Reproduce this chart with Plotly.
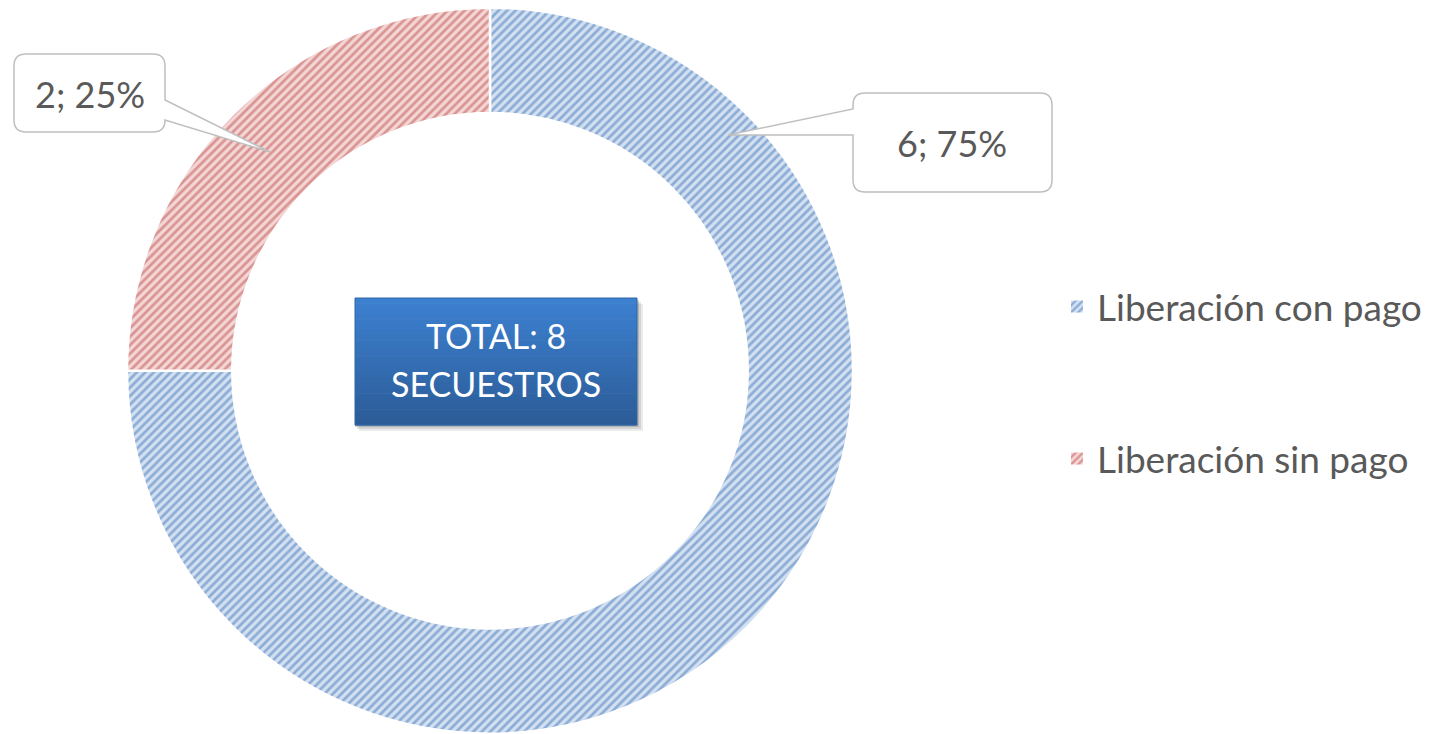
import plotly.graph_objects as go

# data
labels = ['Liberación con pago', 'Liberación sin pago']
values = [6, 2]
fg_colors = ['#4477b8', '#c0504d']
bg_colors = ['#d3e0f1', '#f3d6d5']
center_title = 'TOTAL'
center_unit = 'SECUESTROS'

W, H = 1445, 734
TEXT = '#595959'
FONT = 'Lato'


def px(x):
    return x / W


def py(y):
    return 1 - y / H


def callout(box, pts, r=12):
    # rounded box with a pointer inserted on one of its sides
    x0, y0, x1, y1 = box
    side, p = pts
    d = [f'M{px(x0 + r)},{py(y0)}', f'L{px(x1 - r)},{py(y0)}',
         f'Q{px(x1)},{py(y0)} {px(x1)},{py(y0 + r)}']
    if side == 'right':
        d += [f'L{px(x)},{py(y)}' for x, y in p]
    d += [f'L{px(x1)},{py(y1 - r)}', f'Q{px(x1)},{py(y1)} {px(x1 - r)},{py(y1)}',
          f'L{px(x0 + r)},{py(y1)}', f'Q{px(x0)},{py(y1)} {px(x0)},{py(y1 - r)}']
    if side == 'left':
        d += [f'L{px(x)},{py(y)}' for x, y in p]
    d += [f'L{px(x0)},{py(y0 + r)}', f'Q{px(x0)},{py(y0)} {px(x0 + r)},{py(y0)}', 'Z']
    return dict(type='path', xref='paper', yref='paper', path=' '.join(d),
                fillcolor='white', line=dict(color='#bfbfbf', width=1.5), layer='above')


total = sum(values)
pcts = [round(v / total * 100) for v in values]

domain = dict(x=[px(490 - 363), px(490 + 363)], y=[0, 0.99])


def pattern(i, size=6):
    return dict(shape='/', fgcolor=fg_colors[i], bgcolor=bg_colors[i],
                size=size, solidity=0.45, fillmode='overlay')


fig = go.Figure()

# legend entries: tiny one-slice pies hidden behind the centre box,
# one per legend so the two entries can be spaced apart
for i, leg in enumerate(['legend', 'legend2']):
    fig.add_trace(go.Pie(
        labels=[labels[i]], values=[values[i]], textinfo='none',
        domain=dict(x=[px(470), px(520)], y=[py(385), py(335)]),
        legend=leg, hoverinfo='skip',
        marker=dict(colors=[bg_colors[i]], line=dict(width=0), pattern=pattern(i, 5))
    ))

fig.add_trace(go.Pie(
    labels=labels, values=values, hole=0.71, sort=False, direction='clockwise',
    domain=domain, textinfo='none', showlegend=False,
    marker=dict(colors=bg_colors, line=dict(color='white', width=2.5),
                pattern=dict(shape='/', fgcolor=fg_colors, bgcolor=bg_colors,
                             size=6, solidity=0.45, fillmode='overlay')),
    hovertemplate='%{label}<br>%{value}; %{percent}<extra></extra>'
))

shapes = []

# centre box: shadow + vertical gradient made from bands
bx0, by0, bx1, by1 = 355, 298, 637, 425
for k, op in enumerate([0.08, 0.10, 0.14]):
    o = 6 - k * 2
    shapes.append(dict(type='rect', xref='paper', yref='paper',
                       x0=px(bx0 + o - 2), x1=px(bx1 + o), y0=py(by0 + o), y1=py(by1 + o),
                       fillcolor=f'rgba(0,0,0,{op})', line=dict(width=0), layer='above'))
top_c = (0x3c, 0x80, 0xd0)
bot_c = (0x2c, 0x5c, 0x98)
n = 24
for k in range(n):
    t = k / (n - 1)
    c = tuple(round(a + (b - a) * t) for a, b in zip(top_c, bot_c))
    ya = by0 + (by1 - by0) * k / n
    yb = by0 + (by1 - by0) * (k + 1) / n
    shapes.append(dict(type='rect', xref='paper', yref='paper',
                       x0=px(bx0), x1=px(bx1), y0=py(ya), y1=py(yb + 0.5),
                       fillcolor='rgb(%d,%d,%d)' % c, line=dict(width=0), layer='above'))
shapes.append(dict(type='rect', xref='paper', yref='paper',
                   x0=px(bx0), x1=px(bx1), y0=py(by0), y1=py(by1),
                   line=dict(color='#2f66a8', width=1), layer='above'))

# callouts
shapes.append(callout((853, 93, 1052, 192), ('left', [(853, 135), (728, 135), (853, 109)])))
shapes.append(callout((14, 54, 165, 132), ('right', [(165, 100), (270, 152), (165, 120)])))

annotations = [
    dict(x=px(952), y=py(143), text=f'{values[0]}; {pcts[0]}%'),
    dict(x=px(90), y=py(94), text=f'{values[1]}; {pcts[1]}%'),
]
for a in annotations:
    a.update(font=dict(family=FONT, size=36, color=TEXT))
annotations += [
    dict(x=px(496), y=py(335), text=f'{center_title}: {total}',
         font=dict(family=FONT, size=34, color='white')),
    dict(x=px(496), y=py(384), text=center_unit,
         font=dict(family=FONT, size=34, color='white')),
]
for a in annotations:
    a.update(xref='paper', yref='paper', showarrow=False,
             xanchor='center', yanchor='middle')

leg_style = dict(x=px(1057), xanchor='left', yanchor='middle', bgcolor='rgba(0,0,0,0)',
                 font=dict(family=FONT, size=37, color=TEXT), itemclick=False)

fig.update_layout(
    width=W, height=H,
    margin=dict(l=0, r=0, t=0, b=0),
    paper_bgcolor='white', plot_bgcolor='white',
    shapes=shapes, annotations=annotations,
    legend=dict(y=py(307), **leg_style),
    legend2=dict(y=py(459), **leg_style),
    showlegend=True,
)

fig.write_html('out.html', config={'displayModeBar': False},
               post_script="document.body.style.margin='0';")
